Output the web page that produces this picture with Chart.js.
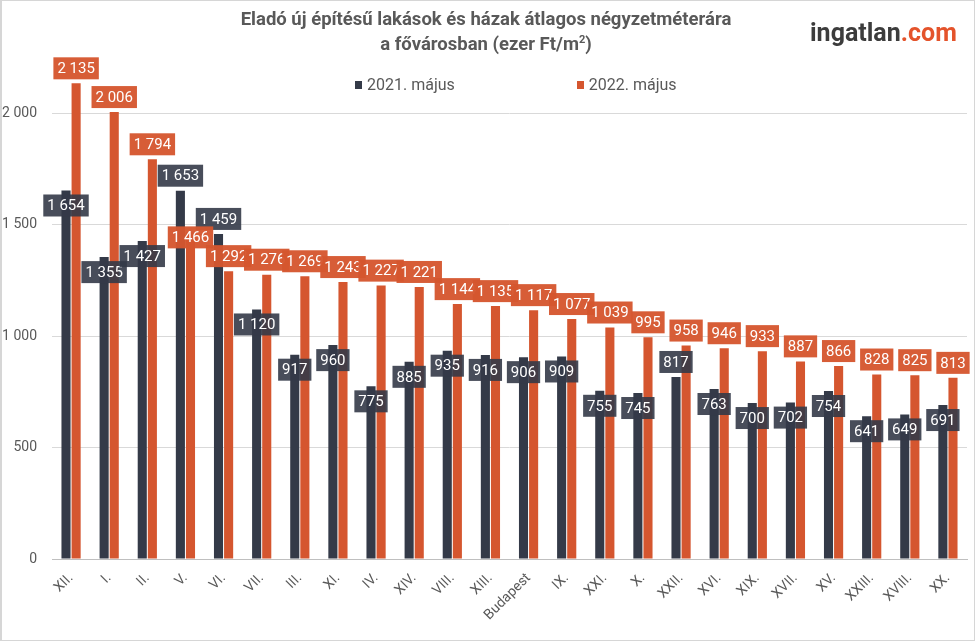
<!DOCTYPE html>
<html>
<head>
<meta charset="utf-8">
<script src="https://cdn.jsdelivr.net/npm/chart.js@4/dist/chart.umd.min.js"></script>
<style>
	body { margin: 0; background: #fff; font-family: Roboto, sans-serif; }
	#wrap { position: relative; width: 975px; height: 641px; }
	#frame { position: absolute; left: 0; top: 0; width: 975px; height: 641px; box-sizing: border-box; border: 1px solid #d6d6d6; border-left-width: 2px; pointer-events: none; }
	canvas { position: absolute; left: 0; top: 0; }
	#title { position: absolute; left: 0; top: 7px; width: 972px; text-align: center; color: #595959; font-weight: bold; font-size: 18.5px; line-height: 25px; }
	#title sup { font-size: 11px; line-height: 0; }
	#logo { position: absolute; left: 810px; top: 18px; font-size: 25px; font-weight: bold; color: #3c3c3c; }
	#logo span { color: #e4532b; }
	#legend { position: absolute; left: 355px; top: 75px; display: flex; gap: 122px; color: #595959; font-size: 16px; }
	#legend div { display: flex; align-items: center; }
	#legend i { display: inline-block; width: 7px; height: 8px; margin-right: 5px; }
</style>
</head>
<body>
<div id="wrap">
	<canvas id="myChart" width="975" height="641"></canvas>
	<div id="title">Eladó új építésű lakások és házak átlagos négyzetméterára<br>a fővárosban (ezer Ft/m<sup>2</sup>)</div>
	<div id="logo">ingatlan<span>.com</span></div>
	<div id="legend"></div>
	<div id="frame"></div>
</div>
<script>
const districts = ["XII.", "I.", "II.", "V.", "VI.", "VII.", "III.", "XI.", "IV.", "XIV.", "VIII.", "XIII.",
	"Budapest", "IX.", "XXI.", "X.", "XXII.", "XVI.", "XIX.", "XVII.", "XV.", "XXIII.", "XVIII.", "XX."];
const seriesNames = ["2021. május", "2022. május"];
const prices2021 = [1654, 1355, 1427, 1653, 1459, 1120, 917, 960, 775, 885, 935, 916,
	906, 909, 755, 745, 817, 763, 700, 702, 754, 641, 649, 691];
const prices2022 = [2135, 2006, 1794, 1466, 1292, 1276, 1269, 1243, 1227, 1221, 1144, 1135,
	1117, 1077, 1039, 995, 958, 946, 933, 887, 866, 828, 825, 813];
const yTicks = [0, 500, 1000, 1500, 2000];

// where each data label sits relative to the bar top: in / out / mid
const labelPlace2021 = districts.map((d, i) => [3, 4, 16].includes(i) ? "out" : "in");
const labelPlace2022 = districts.map((d, i) => i === 3 ? "mid" : "out");

const barColors = ["#343a48", "#d5562f"];
const boxColors = ["rgba(52, 58, 72, 0.9)", "rgba(213, 86, 47, 0.96)"];

function fmt(v) {
	if (v >= 1000) return Math.floor(v / 1000) + " " + String(v % 1000).padStart(3, "0");
	return String(v);
}

let legend = document.getElementById("legend");
seriesNames.forEach((name, i) => {
	let item = document.createElement("div");
	item.innerHTML = `<i style="background:${barColors[i]}"></i>${name}`;
	legend.appendChild(item);
});

const boxLabels = {
	id: "boxLabels",
	afterDatasetsDraw(chart) {
		const ctx = chart.ctx;
		const places = [labelPlace2021, labelPlace2022];
		ctx.save();
		ctx.font = "15px Roboto";
		ctx.textAlign = "center";
		ctx.textBaseline = "middle";
		chart.data.datasets.forEach((ds, di) => {
			const meta = chart.getDatasetMeta(di);
			meta.data.forEach((bar, i) => {
				const txt = fmt(ds.data[i]);
				const w = ctx.measureText(txt).width + 8;
				const h = 22;
				let top;
				if (places[di][i] === "in") top = bar.y + 4;
				else if (places[di][i] === "mid") top = bar.y - 6;
				else top = bar.y - 4 - h;
				ctx.fillStyle = boxColors[di];
				ctx.fillRect(bar.x - w / 2, top, w, h);
				ctx.fillStyle = "#ffffff";
				ctx.fillText(txt, bar.x, top + h / 2 + 1);
			});
		});
		ctx.restore();
	}
};

Chart.defaults.font.family = "Roboto";

new Chart(document.getElementById("myChart").getContext("2d"), {
	type: "bar",
	data: {
		labels: districts,
		datasets: [
			{ label: seriesNames[0], data: prices2021, backgroundColor: barColors[0] },
			{ label: seriesNames[1], data: prices2022, backgroundColor: barColors[1] }
		]
	},
	options: {
		responsive: false,
		animation: false,
		devicePixelRatio: 1,
		categoryPercentage: 0.53,
		barPercentage: 0.9,
		layout: { padding: { top: 2, right: 8, bottom: 0, left: 0 } },
		plugins: {
			legend: { display: false },
			tooltip: { enabled: false }
		},
		scales: {
			x: {
				grid: { display: false },
				border: { display: true, color: "#bfbfbf" },
				ticks: { color: "#595959", font: { size: 14 }, maxRotation: 45, minRotation: 45, autoSkip: false, padding: 3 },
				afterFit: s => { s.height = 82; s.paddingLeft = 0; s.paddingRight = 0; }
			},
			y: {
				min: 0,
				max: 2500,
				afterBuildTicks: s => { s.ticks = yTicks.concat([2500]).map(v => ({ value: v })); },
				grid: { color: c => c.tick && c.tick.value === 2500 ? "rgba(0,0,0,0)" : "#d9d9d9", drawTicks: false },
				border: { display: false },
				ticks: {
					color: "#595959",
					font: { size: 14 },
					padding: 15,
					callback: v => yTicks.includes(v) ? fmt(v) : ""
				},
				afterFit: s => { s.width = 52; s.paddingTop = 0; s.paddingBottom = 0; }
			}
		}
	},
	plugins: [boxLabels]
});
</script>
</body>
</html>
